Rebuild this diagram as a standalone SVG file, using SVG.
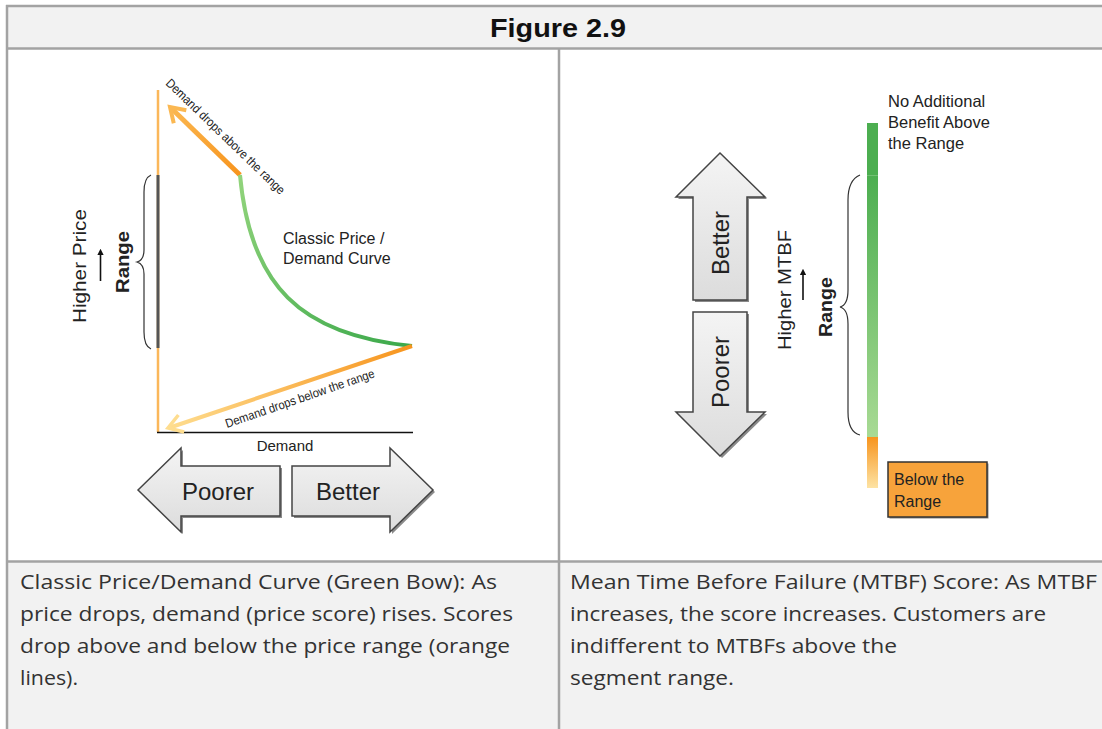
<svg xmlns="http://www.w3.org/2000/svg" width="1102" height="729" viewBox="0 0 1102 729">
<defs>
<style>
.tl{stroke:#a3a3a3;stroke-width:2.5;fill:none}
.fig{font-family:"Liberation Sans",Arial,sans-serif;fill:#222}
.cap{font-family:"Open Sans","Liberation Sans",sans-serif;font-size:20px;fill:#333}
.blk{fill:url(#gray);stroke:#444;stroke-width:1.5}
.shd{fill:#8a8a8a}
</style>
<linearGradient id="gray" x1="0" y1="0" x2="0" y2="1">
<stop offset="0" stop-color="#f4f4f4"/><stop offset="1" stop-color="#dcdcdc"/>
</linearGradient>
<linearGradient id="upOr" gradientUnits="userSpaceOnUse" x1="240" y1="175" x2="170" y2="107">
<stop offset="0" stop-color="#f7941d"/><stop offset="1" stop-color="#fbb852"/>
</linearGradient>
<linearGradient id="loOr" gradientUnits="userSpaceOnUse" x1="412" y1="346" x2="168" y2="428">
<stop offset="0" stop-color="#f7941d"/><stop offset="1" stop-color="#fedd8f"/>
</linearGradient>
<linearGradient id="grn" gradientUnits="userSpaceOnUse" x1="240" y1="175" x2="412" y2="346">
<stop offset="0" stop-color="#92d47c"/><stop offset="1" stop-color="#3aa84a"/>
</linearGradient>
<linearGradient id="barG" x1="0" y1="0" x2="0" y2="1">
<stop offset="0" stop-color="#4cae50"/><stop offset="1" stop-color="#a8da94"/>
</linearGradient>
<linearGradient id="barO" x1="0" y1="0" x2="0" y2="1">
<stop offset="0" stop-color="#f7941d"/><stop offset="1" stop-color="#fde3a4"/>
</linearGradient>
<marker id="ah" viewBox="0 0 10 10" refX="5" refY="5" markerWidth="4" markerHeight="4" orient="auto">
<path d="M0,0 L10,5 L0,10 Z" fill="#111"/>
</marker>
</defs>
<rect width="1102" height="729" fill="#fff"/>

<g id="table">
<rect x="7" y="6" width="1095" height="42" fill="#f2f2f2"/>
<rect x="7" y="561" width="1095" height="168" fill="#f2f2f2"/>
<line class="tl" x1="6" y1="6" x2="1102" y2="6"/>
<line class="tl" x1="7" y1="5" x2="7" y2="729"/>
<line class="tl" x1="6" y1="48.5" x2="1102" y2="48.5"/>
<line class="tl" x1="559" y1="48" x2="559" y2="729"/>
<line class="tl" x1="6" y1="561.5" x2="1102" y2="561.5"/>
<text x="558" y="37" text-anchor="middle" font-family="Liberation Sans,Arial,sans-serif" font-weight="bold" font-size="25" fill="#111" textLength="136" lengthAdjust="spacingAndGlyphs">Figure 2.9</text>
</g>

<g id="caption-left" class="cap">
<text x="20" y="589" textLength="477" lengthAdjust="spacingAndGlyphs">Classic Price/Demand Curve (Green Bow): As</text>
<text x="20" y="621" textLength="493" lengthAdjust="spacingAndGlyphs">price drops, demand (price score) rises. Scores</text>
<text x="20" y="653" textLength="490" lengthAdjust="spacingAndGlyphs">drop above and below the price range (orange</text>
<text x="20" y="685" textLength="58" lengthAdjust="spacingAndGlyphs">lines).</text>
</g>
<g id="caption-right" class="cap">
<text x="570" y="589" textLength="527" lengthAdjust="spacingAndGlyphs">Mean Time Before Failure (MTBF) Score: As MTBF</text>
<text x="570" y="621" textLength="476" lengthAdjust="spacingAndGlyphs">increases, the score increases. Customers are</text>
<text x="570" y="653" textLength="327" lengthAdjust="spacingAndGlyphs">indifferent to MTBFs above the</text>
<text x="570" y="685" textLength="164" lengthAdjust="spacingAndGlyphs">segment range.</text>
</g>

<g id="left-axes">
<line x1="158" y1="90" x2="158" y2="432" stroke="#fbb75a" stroke-width="2.5"/>
<line x1="158" y1="175" x2="158" y2="348" stroke="#555" stroke-width="3"/>
<line x1="157" y1="432.5" x2="413" y2="432.5" stroke="#111" stroke-width="1.5"/>
<text class="fig" x="285" y="451" text-anchor="middle" font-size="15">Demand</text>
<path d="M151,175 Q144,178 144,192 L144,250 Q144,260 137,262 Q144,264 144,274 L144,332 Q144,346 151,349" fill="none" stroke="#333" stroke-width="1.2"/>
<text class="fig" transform="translate(86,266) rotate(-90)" text-anchor="middle" font-size="18" textLength="114" lengthAdjust="spacingAndGlyphs">Higher Price</text>
<line x1="100.5" y1="281" x2="100.5" y2="252" stroke="#111" stroke-width="1.6" marker-end="url(#ah)"/>
<text class="fig" transform="translate(129,262) rotate(-90)" text-anchor="middle" font-size="18" font-weight="bold" textLength="62" lengthAdjust="spacingAndGlyphs">Range</text>
</g>

<g id="left-curves">
<line x1="240" y1="175" x2="172" y2="109" stroke="url(#upOr)" stroke-width="5"/>
<path d="M-14,-9 L0,0 L-14,9" transform="translate(170,107) rotate(-135.8)" fill="none" stroke="#fbb852" stroke-width="4" stroke-linejoin="miter"/>
<text class="fig" transform="translate(165,84) rotate(44)" font-size="12.5" textLength="160" lengthAdjust="spacingAndGlyphs">Demand drops above the range</text>
<path d="M240,175 C250,285 300,335 412,346" fill="none" stroke="url(#grn)" stroke-width="4"/>
<text class="fig" x="283" y="244" font-size="16">Classic Price /</text>
<text class="fig" x="283" y="264" font-size="16">Demand Curve</text>
<line x1="412" y1="346" x2="170" y2="427.5" stroke="url(#loOr)" stroke-width="4"/>
<path d="M-14,-9 L0,0 L-14,9" transform="translate(168,428) rotate(161.4)" fill="none" stroke="#fedd8f" stroke-width="3.5"/>
<text class="fig" transform="translate(227,428) rotate(-19)" font-size="12.5" textLength="157" lengthAdjust="spacingAndGlyphs">Demand drops below the range</text>
</g>

<g id="arrow-poorer-left">
<path class="shd" transform="translate(2,2)" d="M138,490 L181,448 L181,466 L280,466 L280,516 L181,516 L181,532 Z"/>
<path class="blk" d="M138,490 L181,448 L181,466 L280,466 L280,516 L181,516 L181,532 Z"/>
<text class="fig" x="218" y="500" text-anchor="middle" font-size="24" fill="#111">Poorer</text>
</g>
<g id="arrow-better-left">
<path class="shd" transform="translate(2,2)" d="M292,466 L390,466 L390,448 L433,490 L390,532 L390,516 L292,516 Z"/>
<path class="blk" d="M292,466 L390,466 L390,448 L433,490 L390,532 L390,516 L292,516 Z"/>
<text class="fig" x="348" y="500" text-anchor="middle" font-size="24" fill="#111">Better</text>
</g>

<g id="arrow-better-up">
<path class="shd" transform="translate(2,2)" d="M720,153 L765,197 L747,197 L747,300 L693,300 L693,197 L676,197 Z"/>
<path class="blk" d="M720,153 L765,197 L747,197 L747,300 L693,300 L693,197 L676,197 Z"/>
<text class="fig" transform="translate(729,243) rotate(-90)" text-anchor="middle" font-size="24" fill="#111">Better</text>
</g>
<g id="arrow-poorer-down">
<path class="shd" transform="translate(2,2)" d="M693,312 L747,312 L747,412 L765,412 L720,456 L676,412 L693,412 Z"/>
<path class="blk" d="M693,312 L747,312 L747,412 L765,412 L720,456 L676,412 L693,412 Z"/>
<text class="fig" transform="translate(729,372) rotate(-90)" text-anchor="middle" font-size="24" fill="#111">Poorer</text>
</g>

<g id="mtbf-axis">
<text class="fig" transform="translate(791,290) rotate(-90)" text-anchor="middle" font-size="18" textLength="120" lengthAdjust="spacingAndGlyphs">Higher MTBF</text>
<line x1="803" y1="300" x2="803" y2="272" stroke="#111" stroke-width="1.6" marker-end="url(#ah)"/>
<text class="fig" transform="translate(832,307) rotate(-90)" text-anchor="middle" font-size="18" font-weight="bold" textLength="60" lengthAdjust="spacingAndGlyphs">Range</text>
<path d="M860,175 Q848,180 848,200 L848,290 Q848,305 840,307 Q848,309 848,324 L848,412 Q848,432 860,435" fill="none" stroke="#333" stroke-width="1.2"/>
</g>

<g id="mtbf-bar">
<rect x="867" y="123" width="11" height="52" fill="#4cae50"/>
<rect x="867" y="175" width="11" height="262" fill="url(#barG)"/>
<line x1="867" y1="175.5" x2="878" y2="175.5" stroke="#7cc47c" stroke-width="0.8"/>
<rect x="867" y="437" width="11" height="51" fill="url(#barO)"/>
<text class="fig" x="888" y="107" font-size="16.5">No Additional</text>
<text class="fig" x="888" y="128" font-size="16.5">Benefit Above</text>
<text class="fig" x="888" y="149" font-size="16.5">the Range</text>
</g>

<g id="below-range">
<rect x="889.5" y="463.5" width="99" height="55" fill="#888"/>
<rect x="888" y="462" width="99" height="55" fill="#f7a33b" stroke="#333" stroke-width="1.5"/>
<text class="fig" x="894" y="485" font-size="16">Below the</text>
<text class="fig" x="894" y="507" font-size="16">Range</text>
</g>
</svg>
